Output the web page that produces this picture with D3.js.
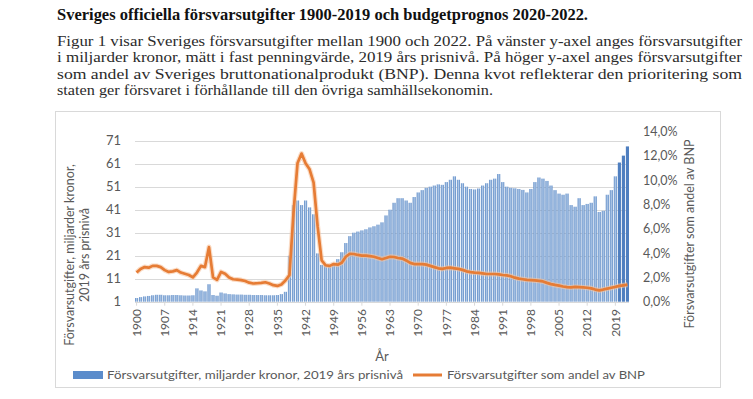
<!DOCTYPE html>
<html>
<head>
<meta charset="utf-8">
<script src="https://cdn.jsdelivr.net/npm/d3@7"></script>
<style>
  body { margin: 0; background: #fff; }
  svg { display: block; }
</style>
</head>
<body>
<div id="chart"></div>
<script>
// ---- data ----
const title = "Sveriges officiella försvarsutgifter 1900-2019 och budgetprognos 2020-2022.";
const paragraph = [
    "Figur 1 visar Sveriges försvarsutgifter mellan 1900 och 2022. På vänster y-axel anges försvarsutgifter",
    "i miljarder kronor, mätt i fast penningvärde, 2019 års prisnivå. På höger y-axel anges försvarsutgifter",
    "som andel av Sveriges bruttonationalprodukt (BNP). Denna kvot reflekterar den prioritering som",
    "staten ger försvaret i förhållande till den övriga samhällsekonomin."
];
// width each printed line takes on the page (last line is not justified)
const paragraphWidths = [685, 685, 685, 436];

const years = d3.range(1900, 2023);

// miljarder kronor, 2019 års prisnivå
const spending = [
    2.6, 3.0, 3.3, 3.5, 3.8, 4.0, 4.0, 3.8, 3.8, 3.9,      // 1900-1909
    3.9, 3.8, 3.7, 3.7, 3.8, 6.8, 5.9, 5.5, 8.6, 3.9,      // 1910-1919
    3.6, 5.0, 4.6, 4.3, 4.2, 4.1, 4.1, 4.0, 4.0, 3.9,      // 1920-1929
    3.9, 3.9, 3.8, 3.8, 3.8, 3.9, 4.3, 5.3, 21, 43,        // 1930-1939
    45, 43, 45, 42, 39, 22, 17, 16.5, 17, 17.5,            // 1940-1949
    19.5, 22.5, 26.5, 29.5, 31, 31.5, 32, 32.5, 33.3, 33.8, // 1950-1959
    34.5, 35.5, 38.5, 41, 44, 46, 46, 45, 44, 46.5,        // 1960-1969
    48.5, 49.5, 50.5, 51, 51.5, 52, 51.8, 53, 54, 55.5,    // 1970-1979
    54, 52.5, 51, 50, 49.8, 50.2, 51.5, 52.5, 54, 54.5,    // 1980-1989
    56.5, 53, 51, 50.5, 50.3, 50, 49.6, 48.5, 50, 53,      // 1990-1999
    55, 54.5, 53.5, 51.5, 49.5, 48, 47.5, 48, 43, 42.3,    // 2000-2009
    46, 43, 43.5, 44, 46.8, 40, 40.5, 47.5, 49.5, 55.5,    // 2010-2019
    61.5, 64.5, 68.5                                       // 2020-2022
];

// andel av BNP, procent
const shareOfGdp = [
    2.4, 2.7, 2.85, 2.8, 2.95, 2.95, 2.85, 2.6, 2.45, 2.5,
    2.6, 2.4, 2.3, 2.2, 2.0, 2.4, 2.95, 2.85, 4.5, 2.0,
    1.8, 2.45, 2.3, 2.0, 1.85, 1.82, 1.78, 1.7, 1.57, 1.5,
    1.52, 1.55, 1.6, 1.5, 1.36, 1.3, 1.42, 1.75, 2.2, 7.3,
    11.4, 12.2, 11.4, 10.9, 9.8, 6.2, 3.4, 3.0, 2.95, 3.1,
    3.05, 3.2, 3.7, 3.95, 3.93, 3.85, 3.8, 3.8, 3.75, 3.7,
    3.6, 3.5, 3.6, 3.7, 3.68, 3.6, 3.55, 3.4, 3.2, 3.1,
    3.1, 3.1, 3.05, 2.95, 2.85, 2.75, 2.7, 2.78, 2.8, 2.75,
    2.7, 2.62, 2.5, 2.43, 2.4, 2.38, 2.33, 2.28, 2.28, 2.28,
    2.25, 2.2, 2.17, 2.1, 1.98, 1.9, 1.85, 1.8, 1.78, 1.75,
    1.72, 1.67, 1.55, 1.45, 1.38, 1.32, 1.25, 1.2, 1.18, 1.22,
    1.2, 1.18, 1.15, 1.1, 1.0, 0.93, 1.0, 1.08, 1.15, 1.22,
    1.3, 1.35, 1.4
];

const leftTicks = [1, 11, 21, 31, 41, 51, 61, 71];
const rightTicks = [0, 2, 4, 6, 8, 10, 12, 14];
const xLabelYears = years.filter(y => (y - 1900) % 7 === 0);

const leftTitle = ["Försvarsutgifter, miljarder kronor,", "2019 års prisnivå"];
const rightTitle = "Försvarsutgifter som andel av BNP";
const xTitle = "År";
const legendBar = "Försvarsutgifter, miljarder kronor, 2019 års prisnivå";
const legendLine = "Försvarsutgifter som andel av BNP";

// ---- layout ----
const width = 753;
const height = 399;
const plot = { left: 135, right: 629, top: 131.7, bottom: 301.7 };
const grey = "#595959";
const sans = "Lato, 'Open Sans', sans-serif";
const serif = "'Liberation Serif', 'Times New Roman', serif";

const svg = d3.select("#chart")
    .append("svg")
    .attr("width", width)
    .attr("height", height);

svg.append("rect").attr("width", width).attr("height", height).attr("fill", "#fff");

// header text
svg.append("text")
    .attr("x", 57).attr("y", 20)
    .attr("font-family", serif).attr("font-weight", "bold").attr("font-size", 17)
    .attr("textLength", 531).attr("lengthAdjust", "spacingAndGlyphs")
    .attr("fill", "#111")
    .text(title);

svg.selectAll("text.para")
    .data(paragraph)
    .enter()
    .append("text")
    .attr("class", "para")
    .attr("x", 57)
    .attr("y", (d, i) => 45.5 + i * 16.5)
    .attr("font-family", serif).attr("font-size", 14.3)
    .attr("fill", "#2b2b2b")
    .attr("textLength", (d, i) => paragraphWidths[i])
    .attr("lengthAdjust", "spacingAndGlyphs")
    .text(d => d);

// chart frame
svg.append("rect")
    .attr("x", 55.5).attr("y", 111.5)
    .attr("width", 665).attr("height", 276)
    .attr("fill", "#fff")
    .attr("stroke", "#d9d9d9");

// scales
const x = d3.scaleBand()
    .domain(years)
    .range([plot.left, plot.right])
    .paddingInner(0.22);

const yLeft = d3.scaleLinear()
    .domain([1, 74.9])
    .range([plot.bottom, plot.top]);

const yRight = d3.scaleLinear()
    .domain([0, 14])
    .range([plot.bottom, plot.top]);

// gradient for bars
const defs = svg.append("defs");
const grad = defs.append("linearGradient").attr("id", "barGrad")
    .attr("x1", "0").attr("x2", "1").attr("y1", "0").attr("y2", "0");
grad.append("stop").attr("offset", "0").attr("stop-color", "#5a88c4");
grad.append("stop").attr("offset", "0.5").attr("stop-color", "#b0c9e8");
grad.append("stop").attr("offset", "1").attr("stop-color", "#5a88c4");

// GRIDLINES
svg.append("g")
    .selectAll("line")
    .data(leftTicks)
    .enter()
    .append("line")
    .attr("x1", plot.left)
    .attr("x2", plot.right)
    .attr("y1", d => Math.round(yLeft(d)) + 0.5)
    .attr("y2", d => Math.round(yLeft(d)) + 0.5)
    .attr("stroke", "#d9d9d9");

// BARS
const barData = years.map((y, i) => ({ year: y, value: spending[i] }));
svg.append("g")
    .selectAll("rect")
    .data(barData)
    .enter()
    .append("rect")
    .attr("x", d => x(d.year))
    .attr("width", x.bandwidth())
    .attr("y", d => yLeft(d.value))
    .attr("height", d => yLeft(1) - yLeft(d.value))
    .attr("fill", d => d.year >= 2020 ? "#4f7fc0" : "url(#barGrad)");

// LINE
const lineData = years.map((y, i) => ({ year: y, value: shareOfGdp[i] }));
const line = d3.line()
    .x(d => x(d.year) + x.bandwidth() / 2)
    .y(d => yRight(d.value))
    .curve(d3.curveLinear);

svg.append("path")
    .datum(lineData)
    .attr("d", line)
    .attr("fill", "none")
    .attr("stroke", "#f6c4a0")
    .attr("stroke-width", 5)
    .attr("stroke-linejoin", "round")
    .attr("opacity", 0.6);

svg.append("path")
    .datum(lineData)
    .attr("d", line)
    .attr("fill", "none")
    .attr("stroke", "#e67c35")
    .attr("stroke-width", 2.7)
    .attr("stroke-linejoin", "round");

// tick marks under the axis
svg.append("g")
    .selectAll("line")
    .data(xLabelYears)
    .enter()
    .append("line")
    .attr("x1", d => x(d) + x.bandwidth() / 2)
    .attr("x2", d => x(d) + x.bandwidth() / 2)
    .attr("y1", plot.bottom)
    .attr("y2", plot.bottom + 4)
    .attr("stroke", "#d9d9d9");

// LEFT AXIS LABELS
svg.append("g")
    .selectAll("text")
    .data(leftTicks)
    .enter()
    .append("text")
    .attr("x", 121)
    .attr("y", d => yLeft(d))
    .attr("dy", "0.35em")
    .attr("text-anchor", "end")
    .attr("font-family", sans).attr("font-size", 13)
    .attr("fill", grey)
    .text(d => d);

// RIGHT AXIS LABELS
const pct = d => d3.format(".1f")(d).replace(".", ",") + "%";
svg.append("g")
    .selectAll("text")
    .data(rightTicks)
    .enter()
    .append("text")
    .attr("x", 643)
    .attr("y", d => yRight(d))
    .attr("dy", "0.35em")
    .attr("font-family", sans).attr("font-size", 12.5)
    .attr("fill", grey)
    .text(pct);

// X AXIS LABELS
svg.append("g")
    .selectAll("text")
    .data(xLabelYears)
    .enter()
    .append("text")
    .attr("transform", d => `translate(${x(d) + x.bandwidth() / 2},309) rotate(-90)`)
    .attr("dy", "0.35em")
    .attr("text-anchor", "end")
    .attr("font-family", sans).attr("font-size", 12)
    .attr("fill", grey)
    .text(d => d);

// AXIS TITLES
svg.append("text")
    .attr("x", (plot.left + plot.right) / 2)
    .attr("y", 356)
    .attr("dy", "0.35em")
    .attr("text-anchor", "middle")
    .attr("font-family", sans).attr("font-size", 13)
    .attr("fill", grey)
    .text(xTitle);

svg.append("g")
    .selectAll("text")
    .data(leftTitle)
    .enter()
    .append("text")
    .attr("transform", (d, i) => `translate(${70 + i * 15},255) rotate(-90)`)
    .attr("dy", "0.35em")
    .attr("text-anchor", "middle")
    .attr("font-family", sans).attr("font-size", 12.5)
    .attr("fill", grey)
    .text(d => d);

svg.append("text")
    .attr("transform", "translate(690,234) rotate(-90)")
    .attr("dy", "0.35em")
    .attr("text-anchor", "middle")
    .attr("font-family", sans).attr("font-size", 12.5)
    .attr("fill", grey)
    .text(rightTitle);

// LEGEND
const legend = svg.append("g");
legend.append("rect")
    .attr("x", 73).attr("y", 371)
    .attr("width", 30).attr("height", 8)
    .attr("fill", "#5b8ccb");
legend.append("text")
    .attr("x", 107).attr("y", 375)
    .attr("dy", "0.35em")
    .attr("font-family", sans).attr("font-size", 12)
    .attr("textLength", 296).attr("lengthAdjust", "spacingAndGlyphs")
    .attr("fill", grey)
    .text(legendBar);
legend.append("line")
    .attr("x1", 413).attr("x2", 442)
    .attr("y1", 375).attr("y2", 375)
    .attr("stroke", "#e67c35").attr("stroke-width", 3);
legend.append("text")
    .attr("x", 447).attr("y", 375)
    .attr("dy", "0.35em")
    .attr("font-family", sans).attr("font-size", 12)
    .attr("textLength", 198).attr("lengthAdjust", "spacingAndGlyphs")
    .attr("fill", grey)
    .text(legendLine);
</script>
</body>
</html>
